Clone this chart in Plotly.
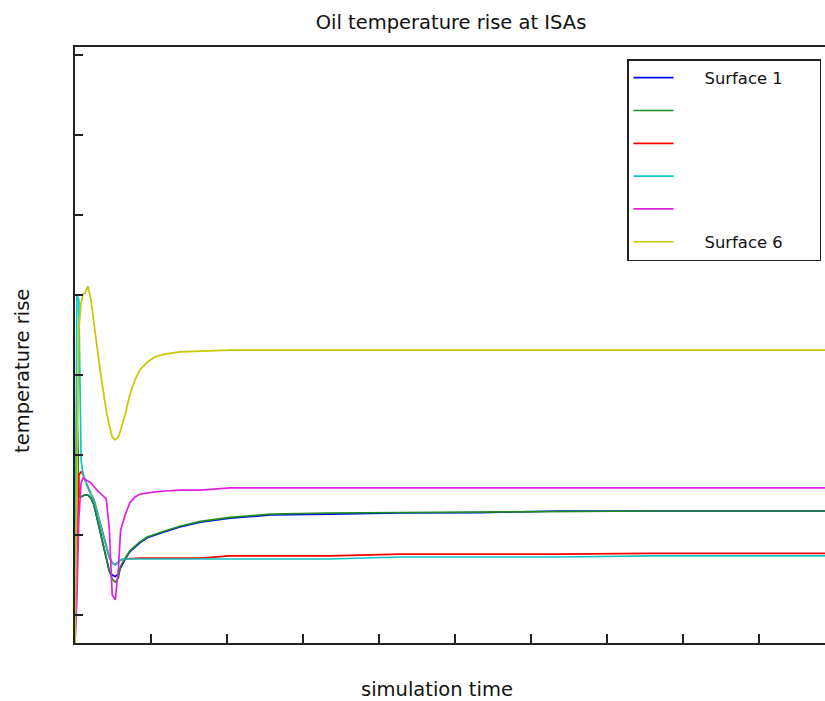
import plotly.graph_objects as go

# simulation time (arbitrary units)
time = [0, 0.25, 0.5, 0.8, 1.05, 1.3, 1.7, 2.1, 2.5, 2.9, 3.3, 3.7, 4.1, 4.5, 4.9, 5.3,
        5.7, 6.0, 6.6, 7.2, 7.9, 8.5, 9.5, 10.5, 11.8, 13.8, 16.5, 20.4, 25.7, 33.5,
        42.8, 53.3, 63.8, 75.7, 87.5, 98.7]

surface1 = [0, 29.1, 18.25, 18.25, 18.4, 18.5, 18.5, 18.1, 17.25, 15.6, 14.1, 12.5, 10.75, 9.0,
            8.5, 8.3, 8.6, 9.4, 10.5, 11.4, 12.0, 12.5, 13.15, 13.5, 13.9, 14.5, 15.1, 15.6,
            16.0, 16.1, 16.25, 16.3, 16.5, 16.5, 16.5, 16.5]
surface2 = [0, 29.1, 18.25, 18.25, 18.4, 18.5, 18.5, 18.1, 17.25, 15.6, 14.1, 12.5, 10.75, 9.1,
            8.0, 7.6, 8.1, 9.6, 10.6, 11.5, 12.1, 12.6, 13.25, 13.6, 14.0, 14.6, 15.2, 15.7,
            16.1, 16.25, 16.3, 16.4, 16.5, 16.5, 16.5, 16.5]
surface3 = [0, 12.9, 21.0, 21.4, 21.1, 20.4, 19.4, 18.6, 17.9, 16.4, 15.0, 13.5, 12.0, 10.75,
            10.0, 9.75, 10.1, 10.4, 10.5, 10.55, 10.6, 10.6, 10.6, 10.6, 10.6, 10.6, 10.6, 10.9,
            10.9, 10.9, 11.1, 11.1, 11.1, 11.2, 11.2, 11.2]
surface4 = [0, 43.5, 42.9, 22.9, 21.1, 20.4, 19.4, 18.6, 17.9, 16.4, 15.0, 13.5, 12.0, 10.75,
            10.0, 9.75, 10.1, 10.4, 10.5, 10.5, 10.5, 10.5, 10.5, 10.5, 10.5, 10.5, 10.5, 10.5,
            10.5, 10.5, 10.75, 10.75, 10.75, 10.9, 10.9, 10.9]
surface5 = [0, 5.4, 15.4, 20.0, 20.6, 20.5, 20.25, 20.0, 19.5, 19.1, 18.75, 18.4, 18.0, 14.5,
            6.0, 5.4, 9.1, 14.1, 16.0, 17.5, 18.25, 18.6, 18.75, 18.9, 19.0, 19.1, 19.1, 19.4,
            19.4, 19.4, 19.4, 19.4, 19.4, 19.4, 19.4, 19.4]
surface6 = [0, 17.9, 39.1, 42.5, 43.6, 43.75, 44.6, 42.9, 39.75, 37.25, 34.1, 31.6, 29.1, 27.25,
            25.75, 25.4, 25.75, 26.6, 28.5, 31.0, 32.9, 34.1, 35.1, 35.75, 36.1, 36.4, 36.5, 36.6,
            36.6, 36.6, 36.6, 36.6, 36.6, 36.6, 36.6, 36.6]

series = [surface1, surface2, surface3, surface4, surface5, surface6]
NB = "\u00a0"
names = [NB * 5 + "Surface 1" + NB * 6, " ", " ", " ", " ", NB * 5 + "Surface 6"]
colors = ["#0000FF", "#1E8C1E", "#FF0000", "#10C4C4", "#E020E0", "#C8C800"]

fig = go.Figure()
for i, (ys, nm, c) in enumerate(zip(series, names, colors)):
    fig.add_trace(go.Scatter(x=time, y=ys, mode="lines", name=nm,
                             legendgroup=f"g{i}",
                             line=dict(color=c, width=1.7)))

font_family = "DejaVu Sans, Verdana, sans-serif"
fig.update_layout(
    width=825, height=701,
    margin=dict(l=75, r=0, t=47, b=58),
    paper_bgcolor="white", plot_bgcolor="white",
    font=dict(family=font_family, size=19.5, color="#111"),
    title=dict(text="Oil temperature rise at ISAs", x=(451 - 75) / 750, xref="paper",
               y=1 - 22 / 701, yref="container", xanchor="center", yanchor="middle",
               font=dict(size=19.5, family=font_family, color="#111")),
    showlegend=True,
    legend=dict(x=(627 - 75) / 750, y=(643 - 59) / 596, xanchor="left", yanchor="top",
                bgcolor="white", bordercolor="#222", borderwidth=1.5,
                font=dict(size=16.4, family=font_family, color="#111"),
                itemwidth=40, tracegroupgap=8.5),
    xaxis=dict(range=[0, 98.68], tickmode="linear", tick0=0, dtick=10,
               showticklabels=False, ticks="inside", ticklen=9, tickwidth=1.5,
               tickcolor="#222", showline=True, linecolor="#222", linewidth=1.8,
               mirror=True, showgrid=False, zeroline=False),
    yaxis=dict(range=[0, 74.5], tickmode="linear", tick0=3.5, dtick=10,
               showticklabels=False, ticks="inside", ticklen=8, tickwidth=1.5,
               tickcolor="#222", showline=True, linecolor="#222", linewidth=1.8,
               mirror=False, showgrid=False, zeroline=False),
    annotations=[
        dict(text="simulation time", xref="paper", yref="paper",
             x=(436.5 - 75) / 750, y=(643 - 689) / 596, showarrow=False,
             xanchor="center", yanchor="middle", font=dict(size=19.5)),
        dict(text="temperature rise", xref="paper", yref="paper",
             x=(22 - 75) / 750, y=(643 - 371) / 596, showarrow=False, textangle=-90,
             xanchor="center", yanchor="middle", font=dict(size=19.5)),
    ],
)

fig.write_html("out.html")
